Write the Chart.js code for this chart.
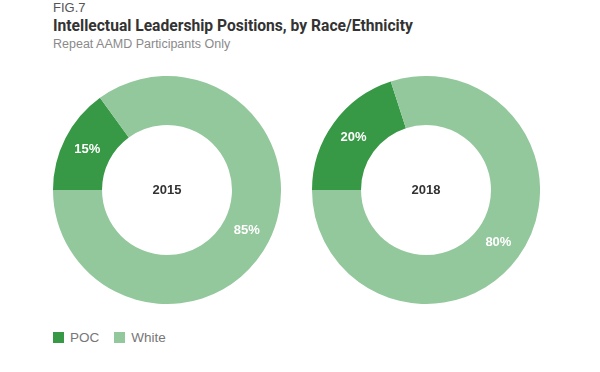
<!DOCTYPE html>
<html>
<head>
<meta charset="utf-8">
<script src="https://cdn.jsdelivr.net/npm/chart.js@4"></script>
<style>
  body { margin: 0; width: 600px; height: 372px; background: #fff; position: relative; font-family: "Liberation Sans", Arial, sans-serif; overflow: hidden; }
  .fig { position: absolute; left: 53px; top: 0px; font-size: 13px; color: #555; }
  .title { position: absolute; left: 53px; top: 16px; font-family: Roboto, sans-serif; font-weight: bold; font-size: 16px; color: #333; white-space: nowrap; transform-origin: 0 0; }
  .sub { position: absolute; left: 53px; top: 37px; font-size: 12.5px; color: #8a8a8a; }
  .box { position: absolute; top: 76px; width: 228px; height: 228px; }
  #c2015 { left: 53px; }
  #c2018 { left: 312px; }
  .legend { position: absolute; left: 53px; top: 330px; font-size: 13.5px; color: #777; }
  .legend span.sw { display: inline-block; width: 11px; height: 11px; margin-right: 6px; vertical-align: -1px; }
  .legend span.item { margin-right: 15px; }
</style>
</head>
<body>
<div class="fig">FIG.7</div>
<div class="title" id="title">Intellectual Leadership Positions, by Race/Ethnicity</div>
<div class="sub">Repeat AAMD Participants Only</div>
<div class="box" id="c2015"><canvas id="chart2015"></canvas></div>
<div class="box" id="c2018"><canvas id="chart2018"></canvas></div>
<div class="legend" id="legend"></div>
<script>
const categories = ["POC", "White"];
const years = ["2015", "2018"];
const values2015 = [15, 85];
const values2018 = [20, 80];
const colors = ["#379845", "#93c79c"];

// squeeze the title to the condensed width of the original
const t = document.getElementById("title");
t.style.transform = "scaleX(" + (360 / t.offsetWidth) + ")";

// white % labels on slices + year in the middle
const ringText = {
  id: "ringText",
  afterDatasetsDraw(chart, args, opts) {
    const ctx = chart.ctx;
    const meta = chart.getDatasetMeta(0);
    ctx.save();
    ctx.textAlign = "center";
    ctx.textBaseline = "middle";
    ctx.font = "bold 13px 'Liberation Sans', Arial, sans-serif";
    ctx.fillStyle = "#fff";
    meta.data.forEach((arc, i) => {
      const p = arc.tooltipPosition();
      ctx.fillText(chart.data.datasets[0].data[i] + "%", p.x, p.y);
    });
    const c = meta.data[0];
    ctx.fillStyle = "#333";
    ctx.fillText(opts.year, c.x, c.y);
    ctx.restore();
  }
};

function makeRing(id, year, values) {
  new Chart(document.getElementById(id), {
    type: "doughnut",
    data: {
      labels: categories,
      datasets: [{ data: values, backgroundColor: colors, borderWidth: 0 }]
    },
    options: {
      responsive: true,
      maintainAspectRatio: false,
      animation: false,
      rotation: 270,
      cutout: "57%",
      layout: { padding: 0 },
      plugins: {
        legend: { display: false },
        tooltip: { enabled: false },
        ringText: { year: year }
      }
    },
    plugins: [ringText]
  });
}

makeRing("chart2015", years[0], values2015);
makeRing("chart2018", years[1], values2018);

document.getElementById("legend").innerHTML = categories.map((c, i) =>
  '<span class="item"><span class="sw" style="background:' + colors[i] + '"></span>' + c + '</span>'
).join("");
</script>
</body>
</html>
